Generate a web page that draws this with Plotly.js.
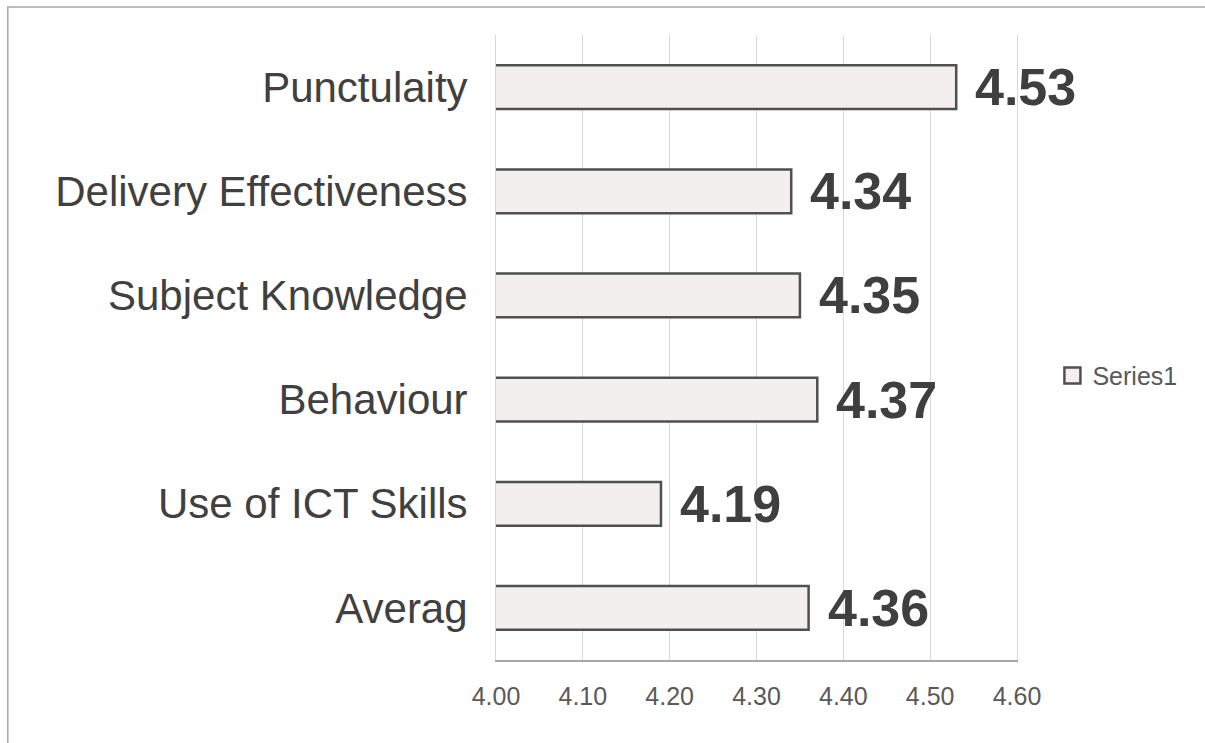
<!DOCTYPE html>
<html>
<head>
<meta charset="utf-8">
<script src="https://cdn.plot.ly/plotly-3.0.1.min.js"></script>
<style>
html,body{margin:0;padding:0;background:#fff;}
#chart{width:1205px;height:743px;}
</style>
</head>
<body>
<div id="chart"></div>
<script>
const categories = ["Punctulaity", "Delivery Effectiveness", "Subject Knowledge", "Behaviour", "Use of ICT Skills", "Averag"];
const values = [4.53, 4.34, 4.35, 4.37, 4.19, 4.36];
const valueLabels = ["4.53", "4.34", "4.35", "4.37", "4.19", "4.36"];
const tickValues = [4.0, 4.1, 4.2, 4.3, 4.4, 4.5, 4.6];
const tickLabels = ["4.00", "4.10", "4.20", "4.30", "4.40", "4.50", "4.60"];
const seriesName = "Series1";

const font = "Liberation Sans, Arial, sans-serif";
const barFill = "#f4efef";
const barLine = "#505050";

const trace = {
  type: "bar",
  orientation: "h",
  name: seriesName,
  y: categories,
  x: values,
  width: 0.42,
  marker: {color: barFill, line: {color: barLine, width: 2.5}},
  hoverinfo: "x+y",
  showlegend: false
};

// legend-only entry with a larger square swatch
const legendTrace = {
  type: "scatter",
  mode: "markers",
  name: seriesName,
  x: [null], y: [null],
  marker: {symbol: "square", size: 17, color: barFill, line: {color: barLine, width: 2.5}},
  showlegend: true,
  hoverinfo: "skip"
};

const annotations = categories.map((c, i) => ({
  x: values[i], y: c, xref: "x", yref: "y",
  text: valueLabels[i], showarrow: false,
  xanchor: "left", yanchor: "middle", xshift: 17, yshift: 0,
  font: {family: font, size: 52, color: "#3f3f3f", weight: "bold"}
}));

const layout = {
  width: 1205, height: 743,
  margin: {l: 496, r: 188, t: 35, b: 83},
  paper_bgcolor: "#ffffff", plot_bgcolor: "#ffffff",
  font: {family: font},
  xaxis: {
    range: [4.0, 4.6],
    tickvals: tickValues, ticktext: tickLabels,
    showgrid: true, gridcolor: "#d9d9d9", gridwidth: 1,
    zeroline: false, showline: true, linecolor: "#a8a8a8", linewidth: 2,
    ticks: "", ticklabelstandoff: 13,
    tickfont: {family: font, size: 25, color: "#595959"},
    fixedrange: true
  },
  yaxis: {
    type: "category",
    categoryorder: "array", categoryarray: categories,
    autorange: "reversed",
    showgrid: false, zeroline: false,
    showline: true, mirror: true, linecolor: "#d9d9d9", linewidth: 1,
    ticks: "", ticklabelstandoff: 19,
    tickfont: {family: font, size: 42, color: "#404040"},
    fixedrange: true
  },
  showlegend: true,
  legend: {
    x: 1.068, xanchor: "left", y: 0.455, yanchor: "middle",
    font: {family: font, size: 25, color: "#595959"},
    bgcolor: "rgba(0,0,0,0)", itemwidth: 30
  },
  shapes: [{
    type: "rect", xref: "paper", yref: "paper",
    x0: -0.937, x1: 1.5, y0: -0.3, y1: 1.0448,
    line: {color: "#a8a8a8", width: 1.5}, fillcolor: "rgba(0,0,0,0)", layer: "below"
  }],
  annotations: annotations,
  bargap: 0.58
};

Plotly.newPlot("chart", [trace, legendTrace], layout, {displayModeBar: false, staticPlot: true});
</script>
</body>
</html>
